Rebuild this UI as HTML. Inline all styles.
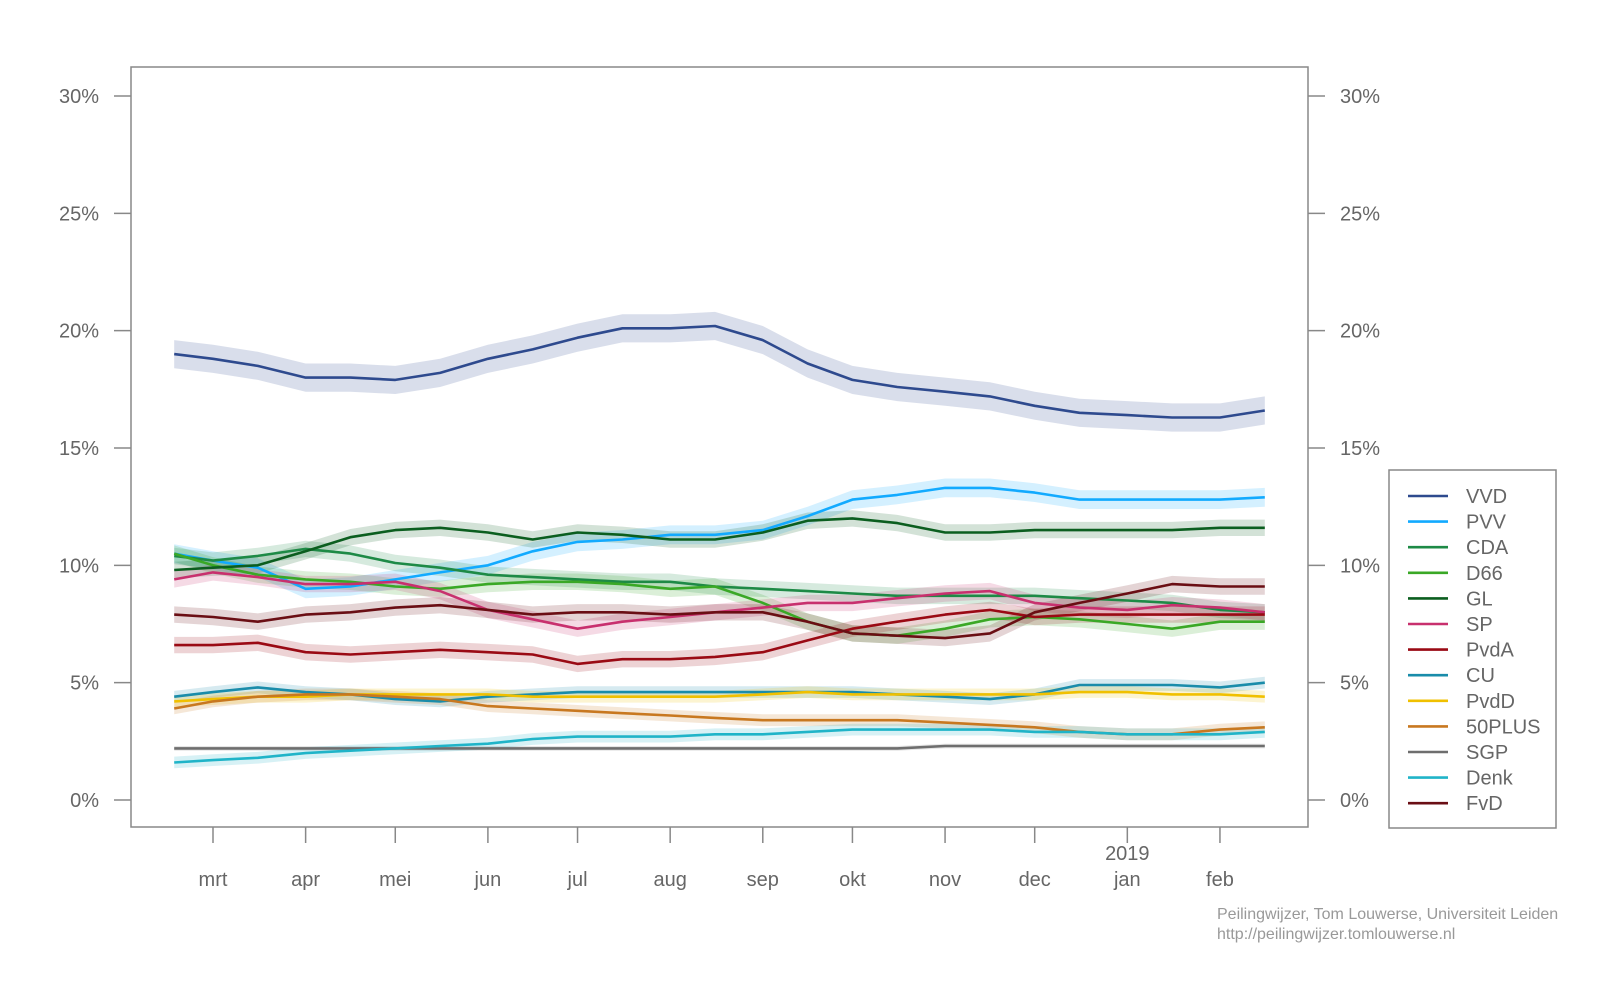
<!DOCTYPE html>
<html><head><meta charset="utf-8"><style>
html,body{margin:0;padding:0;background:#fff;}
svg{display:block;font-family:"Liberation Sans",sans-serif;}
</style></head><body>
<svg id="chart" width="1600" height="992" viewBox="0 0 1600 992" xmlns="http://www.w3.org/2000/svg">
<rect x="131" y="67" width="1177" height="760" fill="none" stroke="#888" stroke-width="1.5"/>
<g id="axes"></g>
<g id="bands"></g>
<g id="lines"></g>
<g id="legend">
<rect x="1389" y="470" width="167" height="358" fill="#fff" stroke="#888" stroke-width="1.5"/>
</g>
<text x="1217" y="919" font-size="16" fill="#999">Peilingwijzer, Tom Louwerse, Universiteit Leiden</text>
<text x="1217" y="939" font-size="16" fill="#999">http://peilingwijzer.tomlouwerse.nl</text>
</svg>
<script>
// day offsets relative to 1 March 2018
const days = [-13,0,15,31,46,61,76,92,107,122,137,153,168,184,199,214,229,245,260,275,290,306,321,337,352];
const monthLabels = ["mrt","apr","mei","jun","jul","aug","sep","okt","nov","dec","jan","feb"];
const monthDays = [0,31,61,92,122,153,184,214,245,275,306,337];
const yTicks = [0,5,10,15,20,25,30];
const parties = ["VVD","PVV","CDA","D66","GL","SP","PvdA","CU","PvdD","50PLUS","SGP","Denk","FvD"];
const colors = ["#2e4a8e","#12aaff","#1e8a46","#3aa826","#0b5e1f","#c8306e","#9a0a14","#1a8caa","#f0c000","#c87820","#6e6e6e","#20b4c8","#6a0e14"];
const vVVD = [19.0,18.8,18.5,18.0,18.0,17.9,18.2,18.8,19.2,19.7,20.1,20.1,20.2,19.6,18.6,17.9,17.6,17.4,17.2,16.8,16.5,16.4,16.3,16.3,16.6];
const vPVV = [10.5,10.2,9.9,9.0,9.1,9.4,9.7,10.0,10.6,11.0,11.1,11.3,11.3,11.5,12.1,12.8,13.0,13.3,13.3,13.1,12.8,12.8,12.8,12.8,12.9];
const vCDA = [10.4,10.2,10.4,10.7,10.5,10.1,9.9,9.6,9.5,9.4,9.3,9.3,9.1,9.0,8.9,8.8,8.7,8.7,8.7,8.7,8.6,8.5,8.4,8.1,8.0];
const vD66 = [10.5,10.0,9.6,9.4,9.3,9.1,9.0,9.2,9.3,9.3,9.2,9.0,9.1,8.4,7.6,7.1,7.0,7.3,7.7,7.8,7.7,7.5,7.3,7.6,7.6];
const vGL = [9.8,9.9,10.0,10.6,11.2,11.5,11.6,11.4,11.1,11.4,11.3,11.1,11.1,11.4,11.9,12.0,11.8,11.4,11.4,11.5,11.5,11.5,11.5,11.6,11.6];
const vSP = [9.4,9.7,9.5,9.2,9.2,9.3,8.9,8.1,7.7,7.3,7.6,7.8,8.0,8.2,8.4,8.4,8.6,8.8,8.9,8.4,8.2,8.1,8.3,8.2,8.0];
const vPvdA = [6.6,6.6,6.7,6.3,6.2,6.3,6.4,6.3,6.2,5.8,6.0,6.0,6.1,6.3,6.8,7.3,7.6,7.9,8.1,7.8,7.9,7.9,7.9,7.9,7.9];
const vCU = [4.4,4.6,4.8,4.6,4.5,4.3,4.2,4.4,4.5,4.6,4.6,4.6,4.6,4.6,4.6,4.6,4.5,4.4,4.3,4.5,4.9,4.9,4.9,4.8,5.0];
const vPvdD = [4.2,4.3,4.4,4.4,4.5,4.5,4.5,4.5,4.4,4.4,4.4,4.4,4.4,4.5,4.6,4.5,4.5,4.5,4.5,4.5,4.6,4.6,4.5,4.5,4.4];
const v50PLUS = [3.9,4.2,4.4,4.5,4.5,4.4,4.3,4.0,3.9,3.8,3.7,3.6,3.5,3.4,3.4,3.4,3.4,3.3,3.2,3.1,2.9,2.8,2.8,3.0,3.1];
const vSGP = [2.2,2.2,2.2,2.2,2.2,2.2,2.2,2.2,2.2,2.2,2.2,2.2,2.2,2.2,2.2,2.2,2.2,2.3,2.3,2.3,2.3,2.3,2.3,2.3,2.3];
const vDenk = [1.6,1.7,1.8,2.0,2.1,2.2,2.3,2.4,2.6,2.7,2.7,2.7,2.8,2.8,2.9,3.0,3.0,3.0,3.0,2.9,2.9,2.8,2.8,2.8,2.9];
const vFvD = [7.9,7.8,7.6,7.9,8.0,8.2,8.3,8.1,7.9,8.0,8.0,7.9,8.0,8.0,7.6,7.1,7.0,6.9,7.1,8.0,8.4,8.8,9.2,9.1,9.1];
const bandHalf = [0.6,0.4,0.35,0.35,0.35,0.35,0.35,0.25,0.25,0.25,0.1,0.25,0.35];
const series = [vVVD,vPVV,vCDA,vD66,vGL,vSP,vPvdA,vCU,vPvdD,v50PLUS,vSGP,vDenk,vFvD];

const NS = "http://www.w3.org/2000/svg";
const xS = d => 213 + d * 2.988;
const yS = v => 800 - v * (704 / 30);
function mk(tag, attrs, parent) {
  const e = document.createElementNS(NS, tag);
  for (const k in attrs) e.setAttribute(k, attrs[k]);
  parent.appendChild(e);
  return e;
}
const axes = document.getElementById("axes");
yTicks.forEach(t => {
  const y = yS(t);
  const l1 = mk("line", {x1:114,x2:131,y1:y,y2:y,stroke:"#888","stroke-width":1.5}, axes);
  
  
  const l2 = mk("line", {x1:1308,x2:1325,y1:y,y2:y,stroke:"#888","stroke-width":1.5}, axes);
  
  
  const t1 = mk("text", {x:99,y:y+7,"text-anchor":"end","font-size":20,fill:"#666"}, axes);
  t1.textContent = t + "%";
  
  
  const t2 = mk("text", {x:1340,y:y+7,"font-size":20,fill:"#666"}, axes);
  t2.textContent = t + "%";
  
  
});
monthDays.forEach((d, i) => {
  const x = xS(d);
  const tk = mk("line", {x1:x,x2:x,y1:827,y2:843,stroke:"#888","stroke-width":1.5}, axes);
  
  
  const tl = mk("text", {x:x,y:886,"text-anchor":"middle","font-size":20,fill:"#666"}, axes);
  tl.textContent = monthLabels[i];
  
  
});
const yr = mk("text", {x:xS(306),y:860,"text-anchor":"middle","font-size":20,fill:"#666"}, axes);
yr.textContent = "2019";



const bands = document.getElementById("bands");
const lines = document.getElementById("lines");
series.forEach((vals, i) => {
  const h = bandHalf[i];
  let up = vals.map((v, j) => xS(days[j]).toFixed(1) + "," + yS(v + h).toFixed(1));
  let dn = vals.map((v, j) => xS(days[j]).toFixed(1) + "," + yS(v - h).toFixed(1)).reverse();
  const b = mk("polygon", {points: up.concat(dn).join(" "), fill: colors[i], "fill-opacity": 0.18, stroke: "none"}, bands);
  
  
  const pts = vals.map((v, j) => xS(days[j]).toFixed(1) + "," + yS(v).toFixed(1)).join(" ");
  const l = mk("polyline", {points: pts, fill: "none", stroke: colors[i], "stroke-width": 2.6, "stroke-linejoin": "round"}, lines);
  
  
});

const legend = document.getElementById("legend");
parties.forEach((p, i) => {
  const y = 496 + i * 25.6;
  const sw = mk("line", {x1:1408,x2:1448,y1:y,y2:y,stroke:colors[i],"stroke-width":2.6}, legend);
  
  
  const t = mk("text", {x:1466,y:y+7,"font-size":20,fill:"#666"}, legend);
  t.textContent = p;
  
  
});
</script>
</body></html>
